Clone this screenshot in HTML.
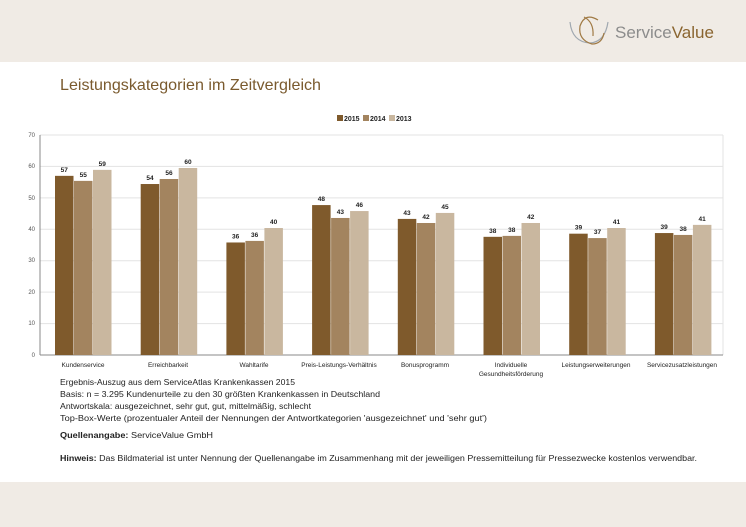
<!DOCTYPE html>
<html><head><meta charset="utf-8"><style>
html,body{margin:0;padding:0;background:#fff;}
svg{display:block;font-family:"Liberation Sans",sans-serif;}
</style></head><body>
<svg width="746" height="527" viewBox="0 0 746 527" xmlns="http://www.w3.org/2000/svg">
<rect x="0" y="0" width="746" height="62" fill="#f0ebe5"/>
<rect x="0" y="482" width="746" height="45" fill="#f0ebe5"/>
<!-- logo -->
<g fill="none" stroke-width="1.2">
<path d="M570 22 Q572 42 590 43 Q605 42 608 22" stroke="#a0a8b0"/>
<path d="M598 20 Q585 12 580 26 Q578 40 592 44 Q602 44 604 33" stroke="#a07a45"/>
<path d="M584 17 Q594 22 593 36" stroke="#a07a45"/>
</g>
<text x="615" y="38" font-size="17" fill="#8c8c8c">Service<tspan fill="#8a6530">Value</tspan></text>
<text x="60" y="90" font-size="16" fill="#7a5a2e" textLength="261" lengthAdjust="spacingAndGlyphs">Leistungskategorien im Zeitvergleich</text>
<!-- legend -->
<g font-size="7" font-weight="bold" fill="#222">
<rect x="337" y="115" width="6" height="6" fill="#7f5a2c"/>
<text x="344" y="121">2015</text>
<rect x="363" y="115" width="6" height="6" fill="#a3845f"/>
<text x="370" y="121">2014</text>
<rect x="389" y="115" width="6" height="6" fill="#c9b79f"/>
<text x="396" y="121">2013</text>
</g>
<!-- grid -->
<g stroke="#e3e3e3" stroke-width="1">
<line x1="40" y1="135" x2="723" y2="135"/><line x1="40" y1="166.4" x2="723" y2="166.4"/>
<line x1="40" y1="197.9" x2="723" y2="197.9"/><line x1="40" y1="229.3" x2="723" y2="229.3"/>
<line x1="40" y1="260.7" x2="723" y2="260.7"/><line x1="40" y1="292.1" x2="723" y2="292.1"/>
<line x1="40" y1="323.6" x2="723" y2="323.6"/>
<line x1="723" y1="135" x2="723" y2="355"/>
</g>
<line x1="40" y1="135" x2="40" y2="355" stroke="#888"/>
<line x1="40" y1="355" x2="723" y2="355" stroke="#888"/>
<g font-size="6" fill="#555" text-anchor="end">
<text x="35" y="137">70</text><text x="35" y="168">60</text><text x="35" y="200">50</text>
<text x="35" y="231">40</text><text x="35" y="262">30</text><text x="35" y="294">20</text>
<text x="35" y="325">10</text><text x="35" y="357">0</text>
</g>
<g id="bars" font-size="6.5" font-weight="bold" fill="#222" text-anchor="middle"></g>
<g font-size="6.5" fill="#222" text-anchor="middle">
<text x="83" y="367">Kundenservice</text>
<text x="168" y="367">Erreichbarkeit</text>
<text x="254" y="367">Wahltarife</text>
<text x="339" y="367">Preis-Leistungs-Verhältnis</text>
<text x="425" y="367">Bonusprogramm</text>
<text x="511" y="367">Individuelle</text>
<text x="511" y="376">Gesundheitsförderung</text>
<text x="596" y="367">Leistungserweiterungen</text>
<text x="682" y="367">Servicezusatzleistungen</text>
</g>
<g font-size="8.6" fill="#222">
<text x="60" y="385" textLength="235" lengthAdjust="spacingAndGlyphs">Ergebnis-Auszug aus dem ServiceAtlas Krankenkassen 2015</text>
<text x="60" y="397" textLength="320" lengthAdjust="spacingAndGlyphs">Basis: n = 3.295 Kundenurteile zu den 30 größten Krankenkassen in Deutschland</text>
<text x="60" y="409" textLength="251" lengthAdjust="spacingAndGlyphs">Antwortskala: ausgezeichnet, sehr gut, gut, mittelmäßig, schlecht</text>
<text x="60" y="421" textLength="427" lengthAdjust="spacingAndGlyphs">Top-Box-Werte (prozentualer Anteil der Nennungen der Antwortkategorien 'ausgezeichnet' und 'sehr gut')</text>
<text x="60" y="438" textLength="153" lengthAdjust="spacingAndGlyphs"><tspan font-weight="bold">Quellenangabe:</tspan> ServiceValue GmbH</text>
<text x="60" y="461" textLength="637" lengthAdjust="spacingAndGlyphs"><tspan font-weight="bold">Hinweis:</tspan> Das Bildmaterial ist unter Nennung der Quellenangabe im Zusammenhang mit der jeweiligen Pressemitteilung für Pressezwecke kostenlos verwendbar.</text>
</g>
</svg>
<script>
var d=[[57,57,55.4,55,58.9,59],[54.4,54,56,56,59.5,60],[35.8,36,36.3,36,40.4,40],[47.7,48,43.6,43,45.8,46],[43.3,43,42,42,45.2,45],[37.6,38,37.9,38,42,42],[38.6,39,37.2,37,40.4,41],[38.8,39,38.2,38,41.4,41]];
var c=["#7f5a2c","#a3845f","#c9b79f"],g=document.getElementById("bars"),s="";
for(var i=0;i<8;i++){var x0=55+i*85.7;for(var j=0;j<3;j++){var v=d[i][j*2],y=355-v*3.143,x=x0+j*19;
s+='<rect x="'+x+'" y="'+y+'" width="18.5" height="'+(355-y)+'" fill="'+c[j]+'"/>';
s+='<text x="'+(x+9.25)+'" y="'+(y-4)+'">'+d[i][j*2+1]+'</text>';}}
g.innerHTML=s;
</script>
</body></html>
